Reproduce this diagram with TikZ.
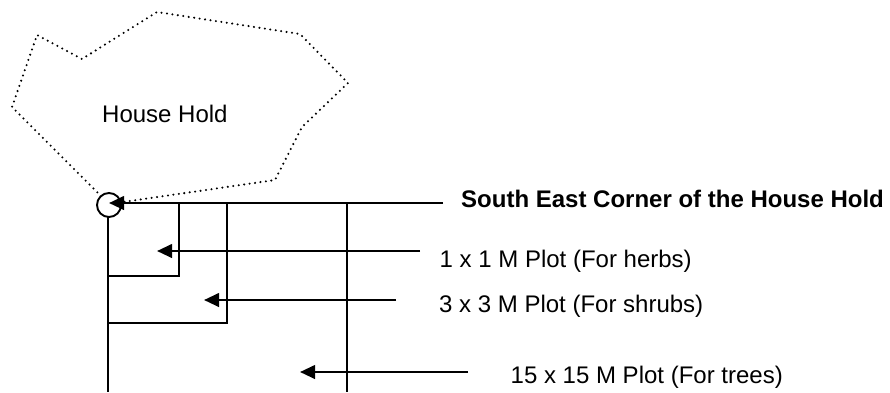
\documentclass[tikz,border=0pt]{standalone}
\usepackage{fontspec}
\setmainfont{Liberation Sans}
\usetikzlibrary{arrows.meta}
\begin{document}
\begin{tikzpicture}[x=1pt,y=-1pt,
  plotline/.style={line width=1.9pt, black},
  pointer/.style={line width=2.5pt, -{Triangle[length=15pt,width=13.5pt]}},
  boundary/.style={line width=2.3pt, line cap=round, dash pattern=on 0pt off 5.5pt},
  lbl/.style={anchor=base west, inner sep=0pt, font=\fontsize{24}{28}\selectfont}]
\useasboundingbox (0,0) rectangle (890,392);
% household boundary
\draw[boundary] (109,204) -- (12,107) -- (37,35) -- (82,59) -- (157,12) -- (300,34)
  -- (348,83) -- (302,127) -- (275,180) -- cycle;
\node[lbl] (house) at (102,122) {House Hold};
% plots
\draw[plotline] (108,203) -- (347,203);
\draw[plotline] (108,203) -- (108,392);
\draw[plotline] (179,203) -- (179,276) -- (108,276);
\draw[plotline] (227,203) -- (227,323) -- (108,323);
\draw[plotline] (347,203) -- (347,392);
% corner marker
\node[circle, draw, fill=white, minimum size=24pt, inner sep=0pt, line width=1.9pt] (corner) at (109,205) {};
\coordinate (cornerpt) at (109,203);
% labels
\node[lbl, font=\fontsize{24}{28}\selectfont\bfseries] (selbl) at (461,207) {South East Corner of the House Hold};
\node[lbl] (herbs) at (439.5,267) {1 x 1 M Plot (For herbs)};
\node[lbl] (shrubs) at (439,312) {3 x 3 M Plot (For shrubs)};
\node[lbl] (trees) at (510.5,383) {15 x 15 M Plot (For trees)};
% pointer ends
\coordinate (seS) at (443,203);
\coordinate (herbsS) at (420,251);
\coordinate (herbsE) at (157,251);
\coordinate (shrubsS) at (396,300);
\coordinate (shrubsE) at (204,300);
\coordinate (treesS) at (468,372);
\coordinate (treesE) at (300,372);
\draw[pointer] (seS) -- (cornerpt);
\draw[pointer] (herbsS) -- (herbsE);
\draw[pointer] (shrubsS) -- (shrubsE);
\draw[pointer] (treesS) -- (treesE);
\end{tikzpicture}
\end{document}
